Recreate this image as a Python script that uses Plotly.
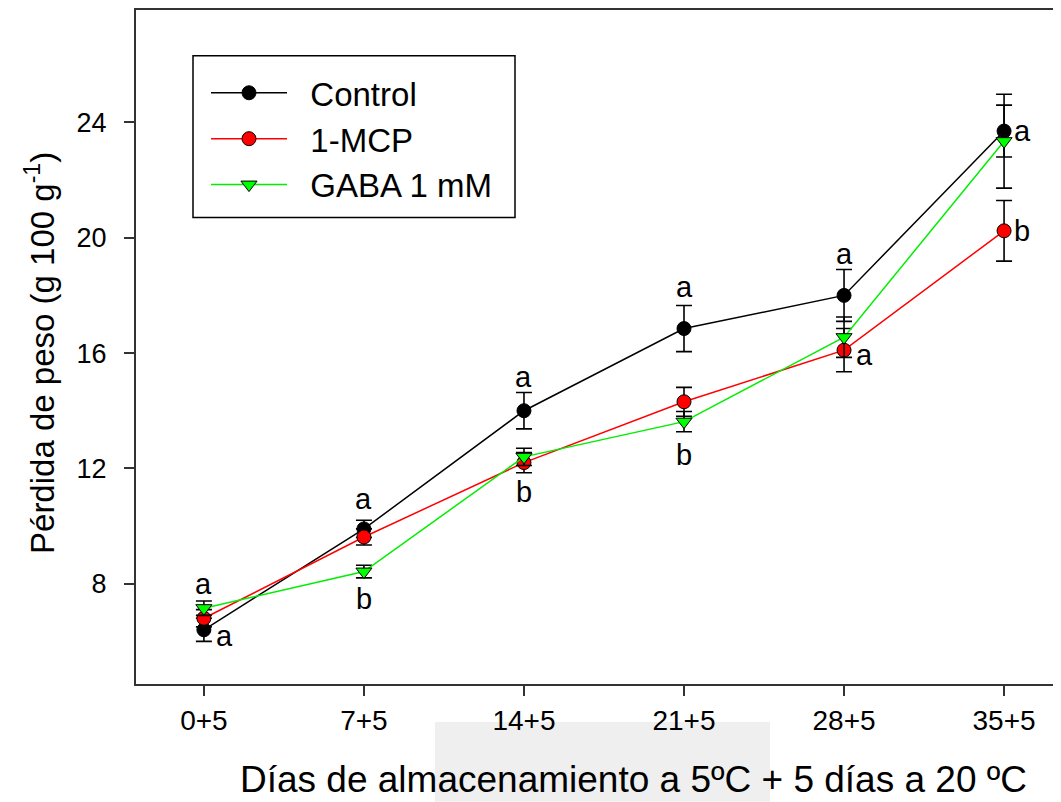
import plotly.graph_objects as go

# ---- data ----
days = [0, 7, 14, 21, 28, 35]
tick_labels = ["0+5", "7+5", "14+5", "21+5", "28+5", "35+5"]

control = [6.40, 9.90, 14.00, 16.85, 18.00, 23.70]
control_err = [0.40, 0.30, 0.63, 0.80, 0.90, 0.90]

mcp = [6.80, 9.62, 12.20, 14.31, 16.10, 20.24]
mcp_err = [0.30, 0.28, 0.35, 0.50, 0.75, 1.05]

gaba = [7.15, 8.42, 12.40, 13.62, 16.55, 23.35]
gaba_err = [0.25, 0.22, 0.30, 0.35, 0.70, 1.63]

# significance letters: (day, value, letter, x-offset in days)
letter_days = [0, 0, 7, 7, 14, 14, 21, 21, 28, 28, 35, 35]
letter_vals = [8.00, 6.20, 10.93, 7.48, 15.17, 11.17, 18.28, 12.48, 19.45, 15.93, 23.70, 20.24]
letter_text = ["a", "a", "a", "b", "a", "b", "a", "b", "a", "a", "a", "b"]
letter_dx = [0, 0.42, 0, 0, 0, 0, 0, 0, 0, 0.45, 0.35, 0.35]

FONT = "Liberation Sans, Arial, sans-serif"

# page offset: the html body has an 8 px margin
PL, PT = 136, 8          # plot area left / top on the page
PW, PH = 925, 676        # plot area size


def px(xp):
    return (xp - PL) / PW


def py(yp):
    return 1 - (yp - PT) / PH


fig = go.Figure()

series = [
    ("Control", control, control_err, "black", "circle", "black"),
    ("1-MCP", mcp, mcp_err, "#ff0000", "circle", "#ff0000"),
    ("GABA 1 mM", gaba, gaba_err, "#00ee00", "triangle-down", "#00ff00"),
]
for name, vals, errs, lcol, sym, mcol in series:
    fig.add_trace(go.Scatter(
        x=days, y=vals, name="\u00a0\u00a0" + name, mode="lines+markers",
        line=dict(color=lcol, width=1.5),
        marker=dict(symbol=sym, size=14, color=mcol,
                    line=dict(color="black", width=1)),
        error_y=dict(type="data", array=errs, visible=True,
                     color="black", thickness=1.6, width=8),
    ))

for d, v, t, dx in zip(letter_days, letter_vals, letter_text, letter_dx):
    fig.add_annotation(x=d + dx, y=v, text=t, showarrow=False,
                       xref="x", yref="y",
                       xanchor="center" if dx == 0 else "left",
                       yanchor="middle",
                       font=dict(family=FONT, size=29, color="black"))

# axis titles
fig.add_annotation(text="Días de almacenamiento a 5ºC + 5 días a 20 ºC",
                   xref="paper", yref="paper", x=px(633), y=py(780),
                   xanchor="center", yanchor="middle", showarrow=False,
                   font=dict(family=FONT, size=37, color="black"))
fig.add_annotation(text="Pérdida de peso (g 100 g<sup>-1</sup>)",
                   xref="paper", yref="paper", x=px(40), y=py(352),
                   xanchor="center", yanchor="middle", showarrow=False,
                   textangle=-90,
                   font=dict(family=FONT, size=33, color="black"))

# faint background artefact at bottom
fig.add_shape(type="rect", xref="paper", yref="paper",
              x0=px(435), x1=px(770), y0=py(802), y1=py(722),
              fillcolor="#efefef", line=dict(width=0), layer="below")

# legend frame
fig.add_shape(type="rect", xref="paper", yref="paper",
              x0=px(193), x1=px(515), y0=py(216), y1=py(54),
              line=dict(color="black", width=1.5), layer="above")

fig.update_layout(
    width=1053, height=794,
    margin=dict(l=128, r=0, t=0, b=118),
    paper_bgcolor="white", plot_bgcolor="white",
    font=dict(family=FONT, color="black"),
    showlegend=True,
    legend=dict(x=px(206), y=py(63), xanchor="left", yanchor="top",
                borderwidth=0, bgcolor="rgba(0,0,0,0)",
                font=dict(family=FONT, size=33, color="black"),
                itemwidth=76, tracegroupgap=0),
    xaxis=dict(range=[-2.97, 37.49], tickvals=days, ticktext=tick_labels,
               showgrid=False, zeroline=False, showline=True,
               linecolor="#333333", linewidth=2, mirror=True,
               ticks="outside", ticklen=10, tickwidth=1.5, tickcolor="#333333",
               tickfont=dict(family=FONT, size=28, color="black")),
    yaxis=dict(range=[4.52, 27.9], tickvals=[8, 12, 16, 20, 24],
               showgrid=False, zeroline=False, showline=True,
               linecolor="#333333", linewidth=2,
               ticks="outside", ticklen=10, tickwidth=1.5, tickcolor="#333333",
               ticklabelstandoff=12,
               tickfont=dict(family=FONT, size=27, color="black")),
)

fig.write_html("out.html")
